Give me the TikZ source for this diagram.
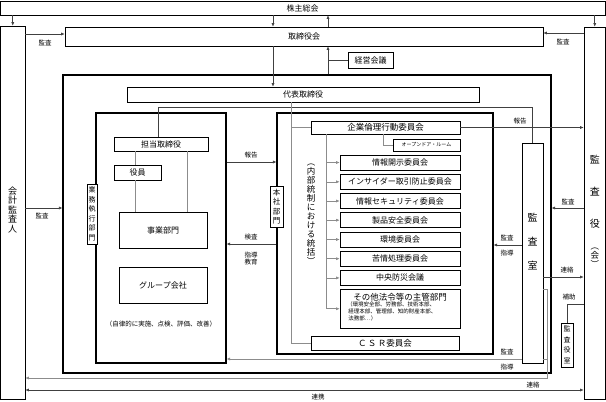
\documentclass[tikz,border=0pt]{standalone}
\usepackage{fontspec}
\setmainfont{Noto Sans CJK JP}
\usetikzlibrary{arrows.meta,calc}
\newcommand{\myfs}[2]{\fontsize{#1}{#2}\selectfont}
\tikzset{
  bx/.style={draw=black, line width=0.6pt, inner sep=0pt, align=center, font=\myfs{8}{9}},
  thk/.style={draw=black, line width=1.1pt, inner sep=0pt},
  con/.style={draw=black!75, line width=0.6pt},
  gcon/.style={draw=black!45, line width=0.6pt},
  arr/.style={-{Latex[length=3.5pt,width=3pt]}},
  lbl/.style={font=\myfs{6.5}{7.5}, inner sep=0pt, align=center},
  cmbox/.style={bx, minimum width=120pt, minimum height=15pt},
}
\begin{document}
\begin{tikzpicture}[x=1pt,y=-1pt]
\useasboundingbox (0,0) rectangle (606,402);
% main boxes
\node[bx, minimum width=605pt, minimum height=14pt] (kabu) at (302.5,8) {株主総会};
\node[bx, minimum width=24.5pt, minimum height=373pt] (kaikei) at (12.75,212.5) {};
\node[font=\myfs{9}{9.5}, align=center, inner sep=0pt] (kaikeit) at (12.75,210) {会\\計\\監\\査\\人};
\node[bx, minimum width=21.5pt, minimum height=372pt] (kansayaku) at (594.75,213) {};
\node[font=\myfs{10}{12}, align=center, inner sep=0pt] (kansayakut) at (594.75,192) {監\\[20pt]査\\[20pt]役};
\node[font=\myfs{8.5}{9}, align=center, inner sep=0pt] (kansayakukai) at (594.75,258) {︵\\会\\︶};
\node[bx, minimum width=478pt, minimum height=19pt] (torishimari) at (304,36.5) {取締役会};
\node[bx, minimum width=45pt, minimum height=16pt] (keiei) at (370.5,60) {経営会議};
\node[thk, minimum width=488pt, minimum height=298pt] (outer) at (307,224) {};
\node[bx, minimum width=352pt, minimum height=15pt] (daihyo) at (303,94.5) {代表取締役};
\node[thk, minimum width=130pt, minimum height=250pt] (leftin) at (161,238) {};
\node[thk, minimum width=216pt, minimum height=241pt] (rightin) at (385,233.5) {};
% left column
\node[bx, minimum width=94pt, minimum height=14pt] (tanto) at (161,144) {担当取締役};
\node[bx, minimum width=47pt, minimum height=15pt] (yakuin) at (137.5,172.5) {役員};
\node[bx, minimum width=88pt, minimum height=36pt] (jigyo) at (163,230) {事業部門};
\node[bx, minimum width=88pt, minimum height=36pt] (group) at (163,285) {グループ会社};
\node[lbl, font=\myfs{6.5}{7.5}] (jiritsu) at (161,324) {（自律的に実施、点検、評価、改善）};
\node[bx, fill=white, minimum width=10pt, minimum height=60pt, font=\myfs{7}{9.5}] (gyomu) at (92,214) {業\\務\\執\\行\\部\\門};
\node[bx, fill=white, minimum width=13pt, minimum height=41pt, font=\myfs{7.5}{9.5}] (honsha) at (276.5,206.5) {本\\社\\部\\門};
% right column
\node[bx, minimum width=149pt, minimum height=13pt, font=\myfs{8.5}{9}] (kigyo) at (385.5,127.5) {企業倫理行動委員会};
\node[bx, minimum width=67pt, minimum height=12pt, font=\myfs{5}{6}] (opendoor) at (426.5,145) {オープンドア・ルーム};
\node[cmbox] (c1) at (400,162.5) {情報開示委員会};
\node[cmbox] (c2) at (400,181.8) {インサイダー取引防止委員会};
\node[cmbox] (c3) at (400,201) {情報セキュリティ委員会};
\node[cmbox] (c4) at (400,220.2) {製品安全委員会};
\node[cmbox] (c5) at (400,239.5) {環境委員会};
\node[cmbox] (c6) at (400,258.7) {苦情処理委員会};
\node[cmbox] (c7) at (400,277.9) {中央防災会議};
\node[bx, minimum width=120pt, minimum height=38.5pt] (sonota) at (400,308.75) {};
\node[font=\myfs{8.5}{9}, inner sep=0pt] (sonotat) at (400,297) {その他法令等の主管部門};
\node[font=\myfs{5.5}{7}, align=left, inner sep=0pt, anchor=north west] (sonotas) at (347,302) {（環境安全部、労務部、技術本部、\\\ 経理本部、管理部、知的財産本部、\\\ 法務部…）};
\node[bx, minimum width=148pt, minimum height=14pt, font=\myfs{8.5}{9}] (csr) at (385,343) {Ｃ\,Ｓ\,Ｒ委員会};
\node[font=\myfs{8.5}{9}, align=center, inner sep=0pt] (naibu) at (311,214) {︵\\内\\部\\統\\制\\に\\お\\け\\る\\統\\括\\︶};
% audit office
\node[bx, minimum width=21pt, minimum height=220pt] (kansashitsu) at (532.5,253) {};
\node[font=\myfs{10}{12}, align=center, inner sep=0pt] (kansashitsut) at (532.5,242) {監\\[12pt]査\\[12pt]室};
\node[bx, minimum width=12pt, minimum height=44pt, font=\myfs{7}{10.5}] (kyshitsu) at (567,345) {監\\査\\役\\室};
% connectors top
\coordinate (xA) at (273,0);
\coordinate (xB) at (328,0);
\coordinate (xC) at (547,0);
\draw[con,arr] (kaikei.north |- kabu.south) -- (kaikei.north);
\draw[con,arr] (kansayaku.north |- kabu.south) -- (kansayaku.north);
\draw[con,arr] (kabu.south -| xA) -- (torishimari.north -| xA);
\draw[con,arr] (torishimari.north -| xB) -- (kabu.south -| xB);
\draw[con,arr] (torishimari.south -| xA) -- (daihyo.north -| xA);
\draw[con,arr] (outer.north -| xB) -- (torishimari.south -| xB);
\draw[con] (keiei.west) -- (keiei.west -| xB);
\draw[con,arr] (kaikei.east |- 0,34) -- (torishimari.west |- 0,34);
\node[lbl] (l1) at (45,43) {監査};
\draw[con,arr] (kansayaku.west |- 0,33) -- (torishimari.east |- 0,33);
\node[lbl] (l2) at (563,42) {監査};
\draw[con,arr] (kaikei.east |- 0,208) -- (outer.west |- 0,208);
\node[lbl] (l3) at (42,216) {監査};
% internal lines
\draw[con] (tanto.north -| 158,0) -- (158,107) -- (532.5,107) -- (kansashitsu.north);
\draw[gcon] (daihyo.south -| 291,0) |- (csr.west);
\draw[gcon] (291,0 |- kigyo.west) -- (kigyo.west);
\draw[gcon] (kigyo.south -| 383,0) |- (opendoor.west);
\draw[gcon] (kigyo.south -| 326,0) -- (326,0 |- sonota.west);
\foreach \n in {c1,c2,c3,c4,c5,c6,c7,sonota} \draw[gcon,arr] (326,0 |- \n.west) -- (\n.west);
\draw[gcon] (tanto.south -| 135,0) -- (yakuin.north -| 135,0);
\draw[gcon] (yakuin.south -| 135,0) -- (jigyo.north -| 135,0);
\draw[gcon] (tanto.south -| 187,0) -- (jigyo.north -| 187,0);
% horizontal arrows between columns
\draw[con,arr] (leftin.east |- 0,162) -- (rightin.west |- 0,162);
\node[lbl] (l4) at (251,155) {報告};
\draw[con,arr] (rightin.west |- 0,244) -- (leftin.east |- 0,244);
\node[lbl] (l5) at (251,237) {検査};
\node[lbl] (l6) at (251,258.5) {指導\\教育};
\draw[con,arr] (kigyo.east) -- (kansayaku.west |- kigyo.east);
\node[lbl] (l7) at (520,121) {報告};
\draw[con,arr] (kansayaku.west |- 0,208) -- (outer.east |- 0,208);
\node[lbl] (l8) at (568,202) {監査};
\draw[con,arr] (kansashitsu.west |- 0,245) -- (rightin.east |- 0,245);
\node[lbl] (l9) at (507,238) {監査};
\node[lbl] (l10) at (507,253) {指導};
\draw[con,arr] (kansashitsu.east |- 0,277) -- (kansayaku.west |- 0,277);
\node[lbl] (l11) at (567,270) {連絡};
\draw[con] (kansayaku.west |- 0,304) -| (kyshitsu.north);
\node[lbl] (l12) at (569,297) {補助};
\draw[gcon,arr] (kansashitsu.east |- 0,289) -- (xC |- 0,289) -- (xC |- 0,378) -- (kaikei.east |- 0,378);
\node[lbl] (l13) at (533,385) {連絡};
\draw[gcon] (xC |- 0,359) -- (kansashitsu.east |- 0,359);
\draw[gcon,arr] (kansashitsu.west |- 0,359) -- (leftin.east |- 0,359);
\node[lbl] (l14) at (507,352) {監査};
\node[lbl] (l15) at (507,367) {指導};
\draw[con,{Latex[length=3.5pt,width=3pt]}-{Latex[length=3.5pt,width=3pt]}] (kaikei.east |- 0,390) -- (kansayaku.west |- 0,390);
\node[lbl] (l16) at (318,397) {連携};
\end{tikzpicture}
\end{document}
